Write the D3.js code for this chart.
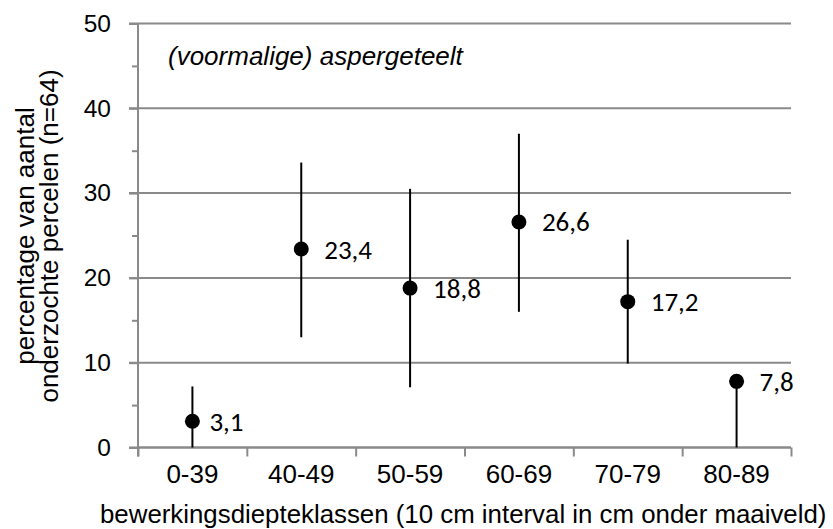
<!DOCTYPE html>
<html>
<head>
<meta charset="utf-8">
<script src="https://cdn.jsdelivr.net/npm/d3@7/dist/d3.min.js"></script>
<style>
  html, body { margin: 0; padding: 0; background: #fff; }
  svg { display: block; }
  text { font-family: "Liberation Sans", Arial, sans-serif; fill: #000; }
  .lbl { font-family: Carlito, Lato, "Open Sans", sans-serif; }
</style>
</head>
<body>
<svg id="chart" width="833" height="529"></svg>
<script>
// Depth classes (cm below ground level)
const categories = ["0-39", "40-49", "50-59", "60-69", "70-79", "80-89"];
// Percentage of surveyed parcels per class, with interval bounds
const values = [3.1, 23.4, 18.8, 26.6, 17.2, 7.8];
const lowerBounds = [0, 13.0, 7.1, 16.0, 9.9, 0];
const upperBounds = [7.2, 33.6, 30.5, 37.0, 24.5, 7.8];
const yTicks = [0, 10, 20, 30, 40, 50];
const yMinorTicks = [5, 15, 25, 35, 45];

const title = "(voormalige) aspergeteelt";
const xTitle = "bewerkingsdiepteklassen (10 cm interval in cm onder maaiveld)";
const yTitleLines = ["percentage van aantal", "onderzochte percelen (n=64)"];

const margin = { top: 23.5, left: 138, right: 42, bottom: 81.5 };
const W = 833, H = 529;
const w = W - margin.left - margin.right;
const h = H - margin.top - margin.bottom;

const gridColor = "#8a8a8a";
const labelFmt = d => d3.format(".1f")(d).replace(".", ",");

const svg = d3.select("#chart");
const g = svg.append("g").attr("transform", `translate(${margin.left},${margin.top})`);

const x = d3.scaleBand().domain(categories).range([0, w]);
const xEdge = d3.scaleLinear().domain([0, categories.length]).range([0, w]);
const y = d3.scaleLinear().domain([0, 50]).range([h, 0]);

// horizontal gridlines (extend left of the axis as major ticks)
g.append("g")
  .selectAll("line")
  .data(yTicks)
  .join("line")
  .attr("x1", -9).attr("x2", w)
  .attr("y1", d => y(d)).attr("y2", d => y(d))
  .attr("stroke", gridColor).attr("stroke-width", 2);

// y axis with labels
const yAxis = g.append("g")
  .call(d3.axisLeft(y).tickValues(yTicks).tickSize(9).tickPadding(18).tickFormat(d3.format("d")));
yAxis.select(".domain").attr("stroke", gridColor).attr("stroke-width", 2)
  .attr("d", `M0,${h + 9}V0`);
yAxis.selectAll(".tick line").attr("stroke", gridColor).attr("stroke-width", 2);
yAxis.selectAll(".tick text").attr("font-size", 24.5).attr("font-family", null);

// y minor ticks
const yMinor = g.append("g")
  .call(d3.axisLeft(y).tickValues(yMinorTicks).tickSize(6).tickFormat(""));
yMinor.select(".domain").remove();
yMinor.selectAll(".tick line").attr("stroke", gridColor).attr("stroke-width", 2);

// x axis: boundary ticks
const xAxis = g.append("g")
  .attr("transform", `translate(0,${h})`)
  .call(d3.axisBottom(xEdge).tickValues(d3.range(categories.length + 1)).tickSize(9).tickFormat(""));
xAxis.select(".domain").attr("stroke", gridColor).attr("stroke-width", 2).attr("d", `M0,0H${w}`);
xAxis.selectAll(".tick line").attr("stroke", gridColor).attr("stroke-width", 2);

// x category labels
const xLabels = g.append("g")
  .attr("transform", `translate(0,${h})`)
  .call(d3.axisBottom(x).tickSize(0).tickPadding(17));
xLabels.select(".domain").remove();
xLabels.selectAll(".tick text").attr("font-size", 26).attr("font-family", null);

// interval bars
const cx = d => x(d) + x.bandwidth() / 2;
g.append("g")
  .selectAll("line")
  .data(categories)
  .join("line")
  .attr("x1", cx).attr("x2", cx)
  .attr("y1", (d, i) => y(lowerBounds[i]))
  .attr("y2", (d, i) => y(upperBounds[i]))
  .attr("stroke", "#000").attr("stroke-width", 2);

// points
g.append("g")
  .selectAll("circle")
  .data(categories)
  .join("circle")
  .attr("cx", cx)
  .attr("cy", (d, i) => y(values[i]))
  .attr("r", 7.5)
  .attr("fill", "#000");

// value labels
g.append("g")
  .selectAll("text")
  .data(categories)
  .join("text")
  .attr("class", "lbl")
  .attr("x", (d, i) => cx(d) + (i === 0 ? 17 : 23))
  .attr("y", (d, i) => y(values[i]))
  .attr("dy", "0.35em")
  .attr("font-size", 27)
  .text((d, i) => labelFmt(values[i]));

// chart title inside plot
svg.append("text")
  .attr("x", 168).attr("y", 65)
  .attr("font-size", 26)
  .attr("font-style", "italic")
  .text(title);

// x axis title, sized to span from x=100 to x=828
const xt = svg.append("text")
  .attr("x", 100).attr("y", 523)
  .attr("font-size", 26)
  .text(xTitle);
const xtLen = xt.node().getComputedTextLength();
if (xtLen > 0) xt.attr("font-size", Math.min(26.3, 26 * 727 / xtLen));

// y axis title (two lines, rotated)
const yt = svg.append("text")
  .attr("transform", "translate(34,236) rotate(-90)")
  .attr("text-anchor", "middle")
  .attr("font-size", 26);
yTitleLines.forEach((line, i) => {
  yt.append("tspan").attr("x", 0).attr("y", i * 24).text(line);
});
</script>
</body>
</html>
